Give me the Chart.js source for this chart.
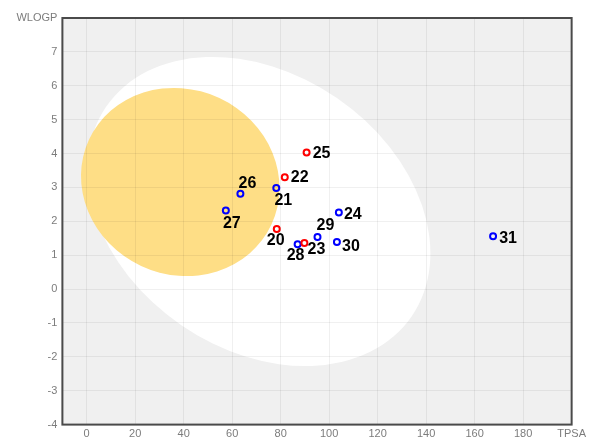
<!DOCTYPE html>
<html>
<head>
<meta charset="utf-8">
<script src="https://cdn.jsdelivr.net/npm/chart.js@4/dist/chart.umd.min.js"></script>
<style>
  html, body { margin: 0; padding: 0; background: #ffffff; }
  #egg { display: block; }
</style>
</head>
<body>
<canvas id="egg" width="589" height="440"></canvas>
<script>
// Molecules: TPSA (x) and WLOGP (y), P-gp substrate flag
const moleculeIds  = ['20', '21', '22', '23', '24', '25', '26', '27', '28', '29', '30', '31'];
const tpsaValues   = [78.4, 78.2, 81.7, 89.8, 104.0, 90.7, 63.4, 57.4, 87.0, 95.2, 103.2, 167.6];
const wlogpValues  = [1.77, 2.98, 3.30, 1.36, 2.26, 4.03, 2.81, 2.32, 1.32, 1.54, 1.39, 1.56];
const pgpSubstrate = [false, true, false, false, true, false, true, true, true, true, true, true];

// Axis ticks
const xTickValues = [0, 20, 40, 60, 80, 100, 120, 140, 160, 180, 200];
const yTickValues = [-4, -3, -2, -1, 0, 1, 2, 3, 4, 5, 6, 7, 8];
const xAxisTitle = 'TPSA';
const yAxisTitle = 'WLOGP';

// Egg regions: centre in data units, semi-axes in TPSA units, tilt in degrees
const whiteRegion = { tpsa: 71.05, wlogp: 2.29, semiMajor: 76.4, semiMinor: 56.8, tilt: 34.5 };
const yolkRegion  = { tpsa: 38.6,  wlogp: 3.16, semiMajor: 41.5, semiMinor: 38.2, tilt: 25 };

// Label placement (offset of label centre from its point, in px)
const labelOffset = {
  '20': [-1, 11], '21': [7, 11], '22': [15, -1], '23': [12, 6],
  '24': [14, 1],  '25': [15, 0], '26': [7, -11], '27': [6, 12],
  '28': [-2, 10], '29': [8, -12], '30': [14, 4], '31': [15, 1]
};

const TICK_COLOR = '#7c7c7c';
const GRID_COLOR = 'rgba(0,0,0,0.06)';
const TICK_FONT = { family: 'Arial, "Liberation Sans", sans-serif', size: 11 };

function pointsFor(flag) {
  const pts = [];
  moleculeIds.forEach((id, i) => {
    if (pgpSubstrate[i] === flag) pts.push({ x: tpsaValues[i], y: wlogpValues[i], id: id });
  });
  return pts;
}

function drawRegion(ctx, xs, ys, r, color) {
  const cx = xs.getPixelForValue(r.tpsa);
  const cy = ys.getPixelForValue(r.wlogp);
  const unit = Math.abs(xs.getPixelForValue(1) - xs.getPixelForValue(0));
  ctx.beginPath();
  ctx.ellipse(cx, cy, r.semiMajor * unit, r.semiMinor * unit, r.tilt * Math.PI / 180, 0, Math.PI * 2);
  ctx.fillStyle = color;
  ctx.fill();
}

const eggPlugin = {
  id: 'egg',
  beforeDraw(chart) {
    const { ctx, chartArea: a } = chart;
    ctx.save();
    ctx.fillStyle = '#f0f0f0';
    ctx.fillRect(a.left, a.top, a.right - a.left, a.bottom - a.top);
    ctx.restore();
  },
  beforeDatasetsDraw(chart) {
    const { ctx, scales } = chart;
    ctx.save();
    drawRegion(ctx, scales.x, scales.y, whiteRegion, '#ffffff');
    drawRegion(ctx, scales.x, scales.y, yolkRegion, '#fede86');
    ctx.restore();
  },
  afterDraw(chart) {
    const { ctx, chartArea: a } = chart;
    ctx.save();
    // frame around the plot
    ctx.strokeStyle = '#4a4a4a';
    ctx.lineWidth = 2;
    ctx.strokeRect(a.left, a.top, a.right - a.left, a.bottom - a.top);
    // molecule numbers
    ctx.fillStyle = '#000000';
    ctx.font = 'bold 16px Arial, "Liberation Sans", sans-serif';
    ctx.textAlign = 'center';
    ctx.textBaseline = 'middle';
    chart.data.datasets.forEach((ds, di) => {
      const meta = chart.getDatasetMeta(di);
      meta.data.forEach((el, i) => {
        const id = ds.data[i].id;
        const off = labelOffset[id] || [14, 0];
        ctx.fillText(id, el.x + off[0], el.y + off[1] + 1);
      });
    });
    ctx.restore();
  }
};

new Chart(document.getElementById('egg'), {
  type: 'scatter',
  data: {
    datasets: [
      {
        label: 'PGP-',
        data: pointsFor(false),
        pointRadius: 3,
        pointHoverRadius: 3,
        borderWidth: 2,
        pointBorderWidth: 2,
        borderColor: '#ff0000',
        pointBorderColor: '#ff0000',
        backgroundColor: 'rgba(255,255,255,0)'
      },
      {
        label: 'PGP+',
        data: pointsFor(true),
        pointRadius: 3,
        pointHoverRadius: 3,
        borderWidth: 2,
        pointBorderWidth: 2,
        borderColor: '#0000ff',
        pointBorderColor: '#0000ff',
        backgroundColor: 'rgba(255,255,255,0)'
      }
    ]
  },
  options: {
    responsive: false,
    animation: false,
    events: [],
    layout: { padding: { top: 18, right: 16, left: 0, bottom: 0 } },
    plugins: { legend: { display: false }, tooltip: { enabled: false } },
    scales: {
      x: {
        type: 'linear',
        min: -10,
        max: 200,
        afterBuildTicks: s => { s.ticks = xTickValues.map(v => ({ value: v })); },
        afterFit: s => { s.height = 15.4; },
        border: { display: false },
        grid: { color: GRID_COLOR, drawTicks: false, z: 1 },
        ticks: {
          color: TICK_COLOR,
          font: TICK_FONT,
          padding: 3,
          maxRotation: 0,
          autoSkip: false,
          callback: v => (v === 200 ? xAxisTitle : String(v))
        }
      },
      y: {
        type: 'linear',
        min: -4,
        max: 8,
        afterBuildTicks: s => { s.ticks = yTickValues.map(v => ({ value: v })); },
        afterFit: s => { s.width = 62.4; },
        border: { display: false },
        grid: { color: GRID_COLOR, drawTicks: false, z: 1 },
        ticks: {
          color: TICK_COLOR,
          font: TICK_FONT,
          padding: 5,
          autoSkip: false,
          callback: v => (v === 8 ? yAxisTitle : String(v))
        }
      }
    }
  },
  plugins: [eggPlugin]
});
</script>
</body>
</html>
